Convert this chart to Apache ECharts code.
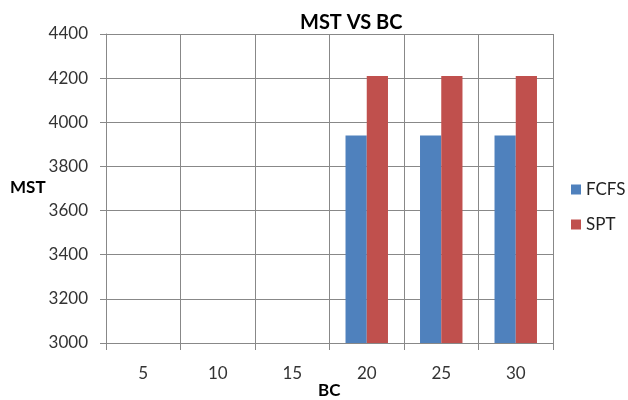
<!DOCTYPE html>
<html><head><meta charset="utf-8">
<script src="https://cdn.jsdelivr.net/npm/echarts@6/dist/echarts.min.js"></script>
<style>html,body{margin:0;padding:0;background:#fff}#c{width:628px;height:400px}</style>
</head><body><div id="c"></div>
<script>
const categories = ['5','10','15','20','25','30'];
const fcfs = [null, null, null, 3940, 3940, 3940];
const spt = [null, null, null, 4210, 4210, 4210];
const yTicks = {min: 3000, max: 4400, interval: 200};
const chartTitle = 'MST VS BC';
const xName = 'BC';
const yName = 'MST';

const FONT = 'Lato';
const boldText = {fontFamily: FONT, fontSize: 17, fontWeight: 'bold', color: '#000'};
const chart = echarts.init(document.getElementById('c'));
chart.setOption({
  animation: false,
  backgroundColor: '#fff',
  title: [
    {text: chartTitle, left: 295, top: 8,
      textStyle: {fontFamily: FONT, fontSize: 20, fontWeight: 'bold', color: '#000'}},
    {text: xName, left: 318, top: 382, padding: 0, textStyle: boldText},
    {text: yName, left: 10, top: 179, padding: 0, textStyle: boldText}
  ],
  legend: {orient: 'vertical', left: 566, top: 176, itemGap: 18, itemWidth: 10, itemHeight: 10,
    icon: 'rect', textStyle: {fontFamily: FONT, fontSize: 17, color: '#222'},
    data: ['FCFS', 'SPT']},
  grid: {left: 106, right: 75, top: 34, bottom: 57, containLabel: false, outerBoundsMode: 'none'},
  xAxis: {type: 'category', data: categories,
    axisLine: {lineStyle: {color: '#888'}},
    axisTick: {show: true, length: 7, lineStyle: {color: '#888'}},
    axisLabel: {fontFamily: FONT, fontSize: 17, color: '#333', margin: 22},
    splitLine: {show: true, lineStyle: {color: '#888', width: 1}}},
  yAxis: {type: 'value', min: yTicks.min, max: yTicks.max, interval: yTicks.interval,
    axisLine: {show: true, lineStyle: {color: '#888'}},
    axisTick: {show: true, length: 6, lineStyle: {color: '#888'}},
    axisLabel: {fontFamily: FONT, fontSize: 17, color: '#333', margin: 18, formatter: v => String(v)},
    splitLine: {show: true, lineStyle: {color: '#888', width: 1}}},
  series: [
    {name: 'FCFS', type: 'bar', data: fcfs, barGap: '0%', barCategoryGap: '43%',
      itemStyle: {color: '#4F81BD'}},
    {name: 'SPT', type: 'bar', data: spt, barGap: '0%', barCategoryGap: '43%',
      itemStyle: {color: '#C0504D'}}
  ]
});
</script></body></html>
